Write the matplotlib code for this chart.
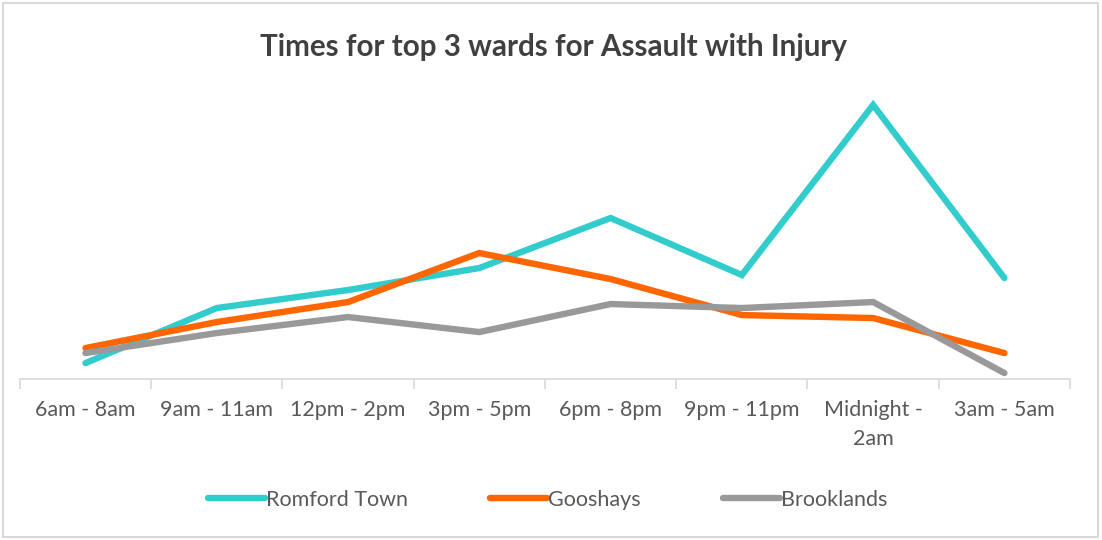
import matplotlib.pyplot as plt
from matplotlib.patches import Rectangle

plt.rcParams['font.family'] = ['Lato', 'DejaVu Sans']

time_slots = ['6am - 8am', '9am - 11am', '12pm - 2pm', '3pm - 5pm', '6pm - 8pm',
              '9pm - 11pm', 'Midnight -\n2am', '3am - 5am']
romford_town = [1.6, 7.1, 8.9, 11.1, 16.1, 10.4, 27.4, 10.1]
gooshays = [3.1, 5.7, 7.7, 12.6, 10.0, 6.4, 6.1, 2.6]
brooklands = [2.6, 4.6, 6.2, 4.7, 7.5, 7.1, 7.7, 0.6]

series = [('Romford Town', romford_town, '#33CCCC'),
          ('Gooshays', gooshays, '#FF6600'),
          ('Brooklands', brooklands, '#999999')]

fig = plt.figure(figsize=(11.02, 5.40), dpi=100)
ax = fig.add_axes([0.018, 0.298, 0.953, 0.554])

x = list(range(len(time_slots)))
for name, vals, col in series:
    ax.plot(x, vals, color=col, lw=4.6, solid_capstyle='round',
            solid_joinstyle='miter', label=name)

ax.set_xlim(-0.5, len(time_slots) - 0.5)
ax.set_ylim(0, 29.9)
ax.set_yticks([])
for s in ['top', 'left', 'right']:
    ax.spines[s].set_visible(False)
ax.spines['bottom'].set_color('#D9D9D9')
ax.spines['bottom'].set_linewidth(1.2)

ax.set_xticks(x)
ax.set_xticklabels(time_slots, fontsize=15.5, color='#595959', linespacing=1.55)
ax.tick_params(axis='x', which='major', length=0, pad=15)
ax.set_xticks([i - 0.5 for i in range(len(time_slots) + 1)], minor=True)
ax.tick_params(axis='x', which='minor', length=7, color='#D9D9D9', width=1.2)

fig.text(0.502, 0.913, 'Times for top 3 wards for Assault with Injury',
         ha='center', va='center', fontsize=21.3, fontweight='bold', color='#404040')

fig.legend(loc='center', bbox_to_anchor=(0.497, 0.075), ncol=3, frameon=False,
           fontsize=15.5, labelcolor='#595959', handlelength=2.65,
           handletextpad=0.05, columnspacing=3.8)

fig.patches.append(Rectangle((0.003, 0.005), 0.993, 0.99, transform=fig.transFigure,
                             fill=False, edgecolor='#D9D9D9', lw=1.5))

fig.savefig('out.png', dpi=100, facecolor='white')
